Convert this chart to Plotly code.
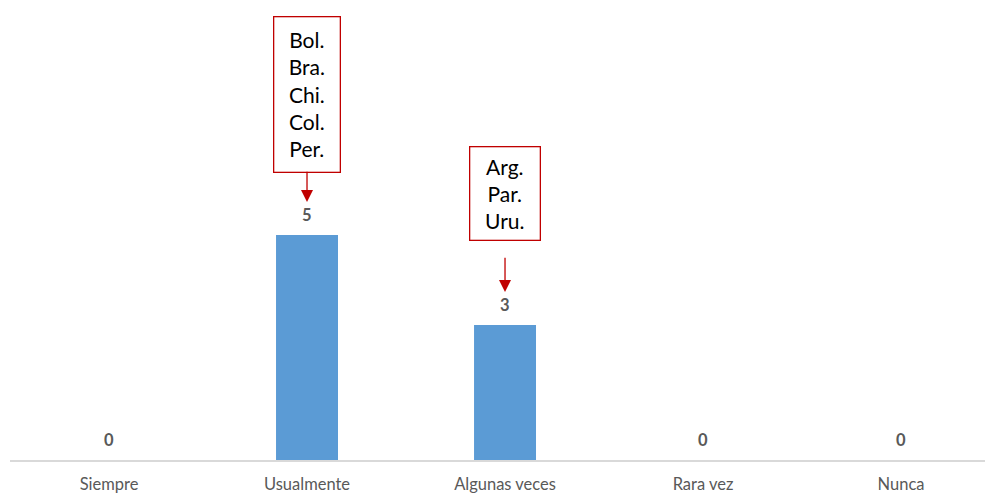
import plotly.graph_objects as go

# Frequency of responses per category
categories = ["Siempre", "Usualmente", "Algunas veces", "Rara vez", "Nunca"]
counts = [0, 5, 3, 0, 0]

# Countries behind each non-empty answer
callout_countries = {
    "Usualmente": ["Bol.", "Bra.", "Chi.", "Col.", "Per."],
    "Algunas veces": ["Arg.", "Par.", "Uru."],
}

FONT = "Lato, Calibri, Carlito, sans-serif"
LABEL_GREY = "#595959"
RED = "#c00000"

fig = go.Figure()
fig.add_trace(go.Bar(
    x=categories,
    y=counts,
    width=0.313,
    marker=dict(color="#5b9bd5", line=dict(width=0)),
    hoverinfo="x+y",
))

annotations = []
# value labels above each bar
for cat, val in zip(categories, counts):
    annotations.append(dict(
        x=cat, y=val, xref="x", yref="y",
        text=f"<b>{val}</b>", showarrow=False,
        yanchor="middle", yshift=20,
        font=dict(family=FONT, size=16.5, color=LABEL_GREY),
    ))

# red callout boxes with arrows pointing at the bars
callout_style = {
    "Usualmente": dict(ay=-141, width=65, height=154, startstandoff=0),
    "Algunas veces": dict(ay=-132, width=69, height=92, startstandoff=18),
}
for cat, names in callout_countries.items():
    val = counts[categories.index(cat)]
    st = callout_style[cat]
    annotations.append(dict(
        x=cat, y=val, xref="x", yref="y",
        text="<br>".join(names),
        showarrow=True, ax=0, ay=st["ay"],
        arrowcolor=RED, arrowhead=2, arrowsize=1.85, arrowwidth=1.3,
        standoff=33, startstandoff=st["startstandoff"],
        bordercolor=RED, borderwidth=1.3, borderpad=0,
        bgcolor="white", width=st["width"], height=st["height"],
        align="center", valign="middle",
        font=dict(family=FONT, size=21, color="#000000"),
    ))

fig.update_layout(
    width=985, height=493,
    margin=dict(l=10, r=0, t=0, b=33),
    paper_bgcolor="white", plot_bgcolor="white",
    showlegend=False,
    annotations=annotations,
    font=dict(family=FONT, color=LABEL_GREY),
)
fig.update_xaxes(
    type="category",
    range=[-0.5, 4.424],
    automargin=False,
    showline=True, linecolor="#d9d9d9", linewidth=1.5,
    ticks="", showgrid=False, zeroline=False,
    tickfont=dict(family=FONT, size=16.5, color=LABEL_GREY),
    ticklabelstandoff=8,
)
fig.update_yaxes(
    range=[0, 10.222],
    automargin=False,
    visible=False, showgrid=False, zeroline=False,
)

fig.write_html("out.html")
